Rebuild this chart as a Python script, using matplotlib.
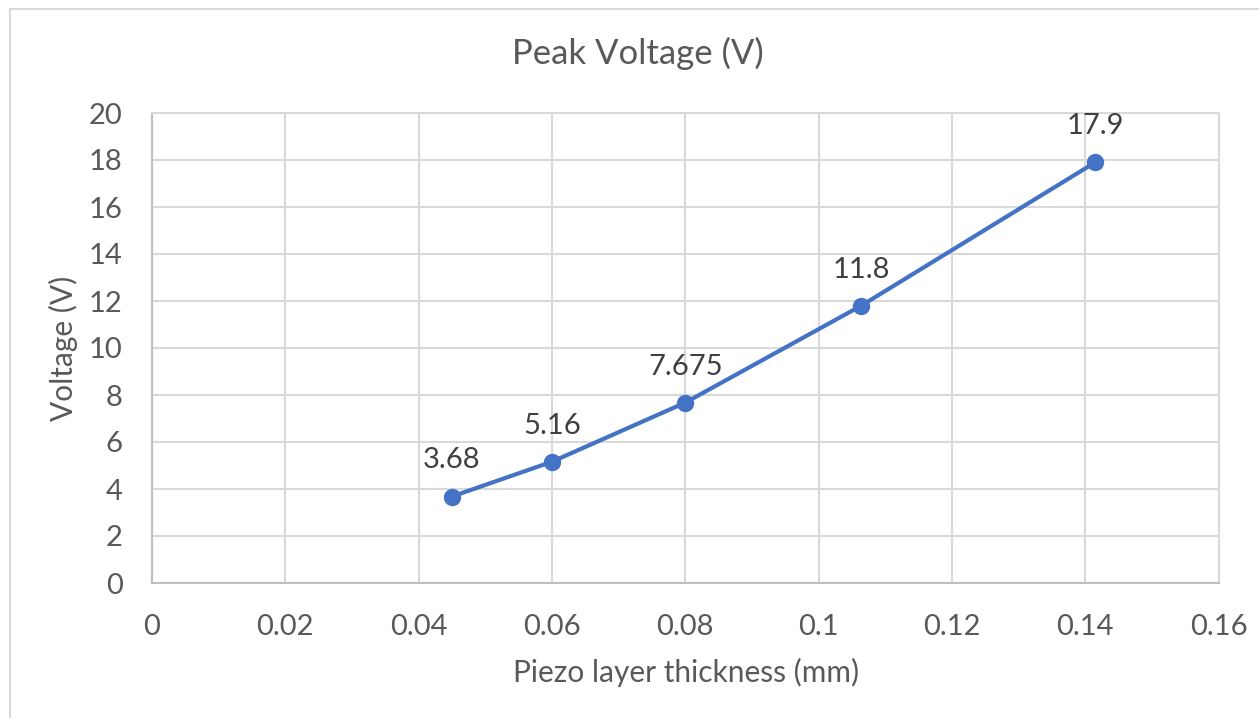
import matplotlib
matplotlib.use("Agg")
import matplotlib.pyplot as plt
from matplotlib.patches import Rectangle

# Peak voltage versus piezo layer thickness
thickness_mm = [0.045, 0.06, 0.08, 0.1064, 0.1415]
peak_voltage = [3.68, 5.16, 7.675, 11.8, 17.9]
voltage_labels = ["3.68", "5.16", "7.675", "11.8", "17.9"]
x_ticks = [0, 0.02, 0.04, 0.06, 0.08, 0.1, 0.12, 0.14, 0.16]
x_tick_labels = ["0", "0.02", "0.04", "0.06", "0.08", "0.1", "0.12", "0.14", "0.16"]
y_ticks = [0, 2, 4, 6, 8, 10, 12, 14, 16, 18, 20]

plt.rcParams["font.family"] = ["Lato", "DejaVu Sans"]

W, H = 1259, 718
fig = plt.figure(figsize=(W / 100, H / 100), dpi=100)
fig.patch.set_facecolor("white")

# Chart frame (runs off the right and bottom edges)
fig.patches.append(Rectangle((10 / W, -0.05), 1.2, (H - 9) / H + 0.05,
                             transform=fig.transFigure, fill=False,
                             edgecolor="#D9D9D9", linewidth=1.5, zorder=0))

ax = fig.add_axes([152 / W, (H - 583) / H, (1218.5 - 152) / W, (583 - 113) / H])
ax.set_xlim(0, 0.16)
ax.set_ylim(0, 20)
ax.set_xticks(x_ticks)
ax.set_xticklabels(x_tick_labels)
ax.set_yticks(y_ticks)

grid_c = "#D9D9D9"
ax.grid(True, color=grid_c, linewidth=1.5, zorder=0)
ax.set_axisbelow(True)
for side in ("top", "right"):
    ax.spines[side].set_color(grid_c)
    ax.spines[side].set_linewidth(1.5)
for side in ("left", "bottom"):
    ax.spines[side].set_color("#BFBFBF")
    ax.spines[side].set_linewidth(1.5)

ax.tick_params(length=0, labelsize=21, colors="#595959")
ax.tick_params(axis="y", pad=21)
ax.tick_params(axis="x", pad=22)

ax.plot(thickness_mm, peak_voltage, color="#4472C4", linewidth=3.0,
        marker="o", markersize=11.5, zorder=3, clip_on=False)

for x, y, t in zip(thickness_mm, peak_voltage, voltage_labels):
    ax.annotate(t, (x, y), xytext=(0, 26), textcoords="offset points",
                ha="center", va="center", fontsize=21, color="#404040")

fig.text(637.5 / W, 1 - 53 / H, "Peak Voltage (V)", ha="center", va="center",
         fontsize=25, color="#595959")
fig.text(686.5 / W, 1 - 672 / H, "Piezo layer thickness (mm)", ha="center",
         va="center", fontsize=21.5, color="#595959")
fig.text(63 / W, 1 - 348 / H, "Voltage (V)", ha="center", va="center",
         rotation=90, fontsize=21.5, color="#595959")

fig.savefig("out.png", dpi=100)
